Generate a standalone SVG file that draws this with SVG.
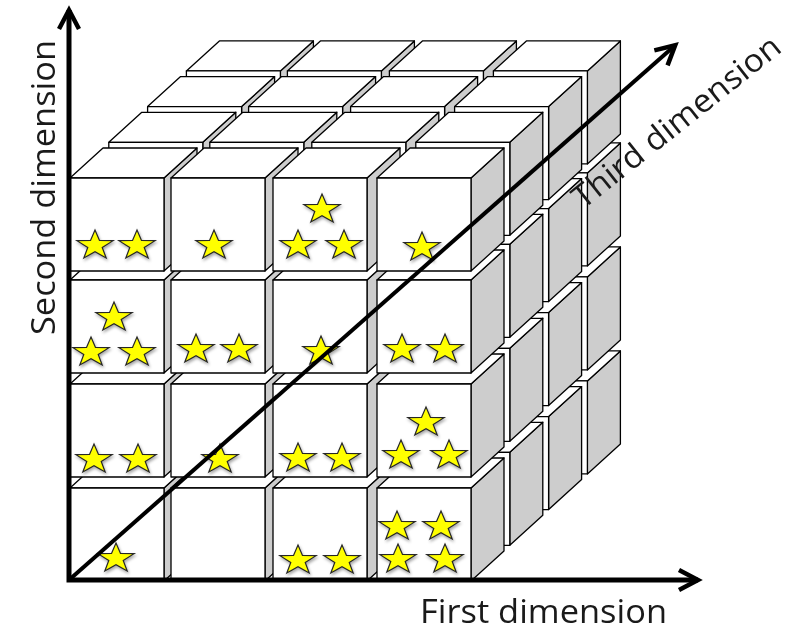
<svg xmlns="http://www.w3.org/2000/svg" xmlns:xlink="http://www.w3.org/1999/xlink" width="796" height="631" viewBox="0 0 796 631">
<style>
.face{stroke:#000;stroke-width:1.3;stroke-linejoin:round}
.front{fill:#fff}
.top{fill:#fff}
.side{fill:#cdcdcd}
.star{fill:#ffff00;stroke:#262626;stroke-width:1.2;stroke-linejoin:miter}
.axis{stroke:#000;stroke-width:5;fill:none;stroke-linejoin:miter}
.diag{stroke:#000;stroke-width:4;fill:none}
.label{font-family:"Open Sans","Liberation Sans",sans-serif;font-size:32px;fill:#1a1a1a}
</style>
<defs>
<g id="cube">
<polygon class="face side" points="94,0 127,-30 127,63 94,93"/>
<polygon class="face top" points="0,0 94,0 127,-30 33,-30"/>
<rect class="face front" x="0" y="0" width="94" height="93"/>
</g>
<filter id="sh" x="-30%" y="-30%" width="160%" height="170%">
<feDropShadow dx="1" dy="2" stdDeviation="1.4" flood-color="#000" flood-opacity="0.35"/>
</filter>
<path id="star" class="star" d="M0,-14 L4.47,-3.54 L18.07,-3.31 L7.23,3.4 L11.17,14.02 L0,7.68 L-11.17,14.02 L-7.23,3.4 L-18.07,-3.31 L-4.47,-3.54 Z"/>
<marker id="arrow" markerUnits="userSpaceOnUse" orient="auto-start-reverse" markerWidth="35" markerHeight="30" viewBox="-25 -15 35 30" refX="0" refY="0" overflow="visible">
<path d="M-19,-10 L0,0 L-19,10" fill="none" stroke="#000" stroke-width="4.5" stroke-linejoin="miter"/>
</marker>
</defs>

<g id="layer-4">
<use href="#cube" x="186.4" y="380.9"/><use href="#cube" x="186.4" y="276.9"/><use href="#cube" x="186.4" y="172.9"/><use href="#cube" x="186.4" y="70.9"/>
<use href="#cube" x="287.4" y="380.9"/><use href="#cube" x="287.4" y="276.9"/><use href="#cube" x="287.4" y="172.9"/><use href="#cube" x="287.4" y="70.9"/>
<use href="#cube" x="389.4" y="380.9"/><use href="#cube" x="389.4" y="276.9"/><use href="#cube" x="389.4" y="172.9"/><use href="#cube" x="389.4" y="70.9"/>
<use href="#cube" x="493.4" y="380.9"/><use href="#cube" x="493.4" y="276.9"/><use href="#cube" x="493.4" y="172.9"/><use href="#cube" x="493.4" y="70.9"/>
</g>
<g id="layer-3">
<use href="#cube" x="147.6" y="416.6"/><use href="#cube" x="147.6" y="312.6"/><use href="#cube" x="147.6" y="208.6"/><use href="#cube" x="147.6" y="106.6"/>
<use href="#cube" x="248.6" y="416.6"/><use href="#cube" x="248.6" y="312.6"/><use href="#cube" x="248.6" y="208.6"/><use href="#cube" x="248.6" y="106.6"/>
<use href="#cube" x="350.6" y="416.6"/><use href="#cube" x="350.6" y="312.6"/><use href="#cube" x="350.6" y="208.6"/><use href="#cube" x="350.6" y="106.6"/>
<use href="#cube" x="454.6" y="416.6"/><use href="#cube" x="454.6" y="312.6"/><use href="#cube" x="454.6" y="208.6"/><use href="#cube" x="454.6" y="106.6"/>
</g>
<g id="layer-2">
<use href="#cube" x="108.8" y="452.3"/><use href="#cube" x="108.8" y="348.3"/><use href="#cube" x="108.8" y="244.3"/><use href="#cube" x="108.8" y="142.3"/>
<use href="#cube" x="209.8" y="452.3"/><use href="#cube" x="209.8" y="348.3"/><use href="#cube" x="209.8" y="244.3"/><use href="#cube" x="209.8" y="142.3"/>
<use href="#cube" x="311.8" y="452.3"/><use href="#cube" x="311.8" y="348.3"/><use href="#cube" x="311.8" y="244.3"/><use href="#cube" x="311.8" y="142.3"/>
<use href="#cube" x="415.8" y="452.3"/><use href="#cube" x="415.8" y="348.3"/><use href="#cube" x="415.8" y="244.3"/><use href="#cube" x="415.8" y="142.3"/>
</g>
<g id="layer-1">
<use href="#cube" x="70" y="488"/><use href="#cube" x="70" y="384"/><use href="#cube" x="70" y="280"/><use href="#cube" x="70" y="178"/>
<use href="#cube" x="171" y="488"/><use href="#cube" x="171" y="384"/><use href="#cube" x="171" y="280"/><use href="#cube" x="171" y="178"/>
<use href="#cube" x="273" y="488"/><use href="#cube" x="273" y="384"/><use href="#cube" x="273" y="280"/><use href="#cube" x="273" y="178"/>
<use href="#cube" x="377" y="488"/><use href="#cube" x="377" y="384"/><use href="#cube" x="377" y="280"/><use href="#cube" x="377" y="178"/>
</g>

<g id="stars" filter="url(#sh)">
<use href="#star" x="95" y="244"/><use href="#star" x="137" y="244"/>
<use href="#star" x="214" y="244"/>
<use href="#star" x="322" y="208"/><use href="#star" x="298" y="244"/><use href="#star" x="344" y="244"/>
<use href="#star" x="422" y="246"/>
<use href="#star" x="114" y="316"/><use href="#star" x="91" y="351"/><use href="#star" x="137" y="351"/>
<use href="#star" x="196" y="348"/><use href="#star" x="239" y="348"/>
<use href="#star" x="321" y="350"/>
<use href="#star" x="402" y="348"/><use href="#star" x="445" y="348"/>
<use href="#star" x="94" y="458"/><use href="#star" x="138" y="458"/>
<use href="#star" x="220" y="458"/>
<use href="#star" x="298" y="457"/><use href="#star" x="342" y="457"/>
<use href="#star" x="426" y="421"/><use href="#star" x="401" y="454"/><use href="#star" x="449" y="454"/>
<use href="#star" x="116" y="557"/>
<use href="#star" x="298" y="559"/><use href="#star" x="342" y="559"/>
<use href="#star" x="397" y="525"/><use href="#star" x="441" y="525"/><use href="#star" x="398" y="558"/><use href="#star" x="445" y="558"/>
</g>

<g id="connectors">
<path class="axis" d="M69,10 V580 H698" marker-start="url(#arrow)" marker-end="url(#arrow)"/>
<path class="diag" d="M69,580 L675.2,45.3" marker-end="url(#arrow)"/>
</g>

<g id="labels">
<text class="label" x="420" y="623" textLength="247" lengthAdjust="spacingAndGlyphs">First dimension</text>
<text class="label" transform="translate(55,335) rotate(-90)" x="0" y="0" textLength="295" lengthAdjust="spacingAndGlyphs">Second dimension</text>
<text class="label" transform="translate(583,210) rotate(-38.5)" x="0" y="0" textLength="256" lengthAdjust="spacingAndGlyphs">Third dimension</text>
</g>
</svg>
